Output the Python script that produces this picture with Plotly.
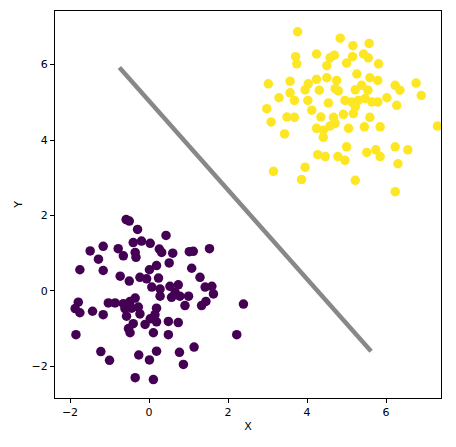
import plotly.graph_objects as go

# cluster 0 (purple)
x0 = [-0.58, -0.50, -0.29, 0.43, -0.40, -0.19, 0.03, -1.49, -1.16, -0.78, -0.65, -0.35, -0.33,
      0.26, 0.32, 0.60, 1.02, 1.12, 1.53, -1.28, -1.75, -1.16, 0.01, 0.19, 0.51, 1.08, -0.73,
      -0.50, -0.23, -0.06, 0.24, 1.29, 0.07, 0.28, 0.53, 0.74, 0.66, 1.42, 1.59, 1.63, 0.28,
      0.57, 0.78, 1.00, -1.79, -1.87, -1.75, -1.43, -1.16, -1.03, -0.86, -0.65, -0.48, -0.35,
      -0.61, -0.44, -0.27, -0.57, -0.23, 0.91, 1.33, 1.44, 2.39, 0.19, 0.15, 0.03, 0.19, -0.10,
      -0.40, -0.52, -0.48, 0.49, 0.74, 0.11, 0.49, -1.85, 2.22, -1.22, -1.00, -0.26, 0.01, 0.19,
      0.77, 1.14, 0.87, -0.35, 0.11]
y0 = [1.89, 1.85, 1.63, 1.47, 1.28, 1.32, 1.26, 1.06, 1.18, 1.12, 0.93, 1.02, 0.89,
      1.11, 1.02, 1.00, 1.04, 1.05, 1.12, 0.84, 0.56, 0.54, 0.56, 0.67, 0.74, 0.60, 0.39,
      0.26, 0.36, 0.32, 0.34, 0.36, 0.10, 0.05, 0.12, 0.16, -0.04, 0.10, 0.12, -0.08, -0.14,
      -0.17, -0.14, -0.14, -0.30, -0.47, -0.58, -0.54, -0.63, -0.32, -0.32, -0.34, -0.28, -0.19,
      -0.47, -0.46, -0.43, -0.67, -0.61, -0.39, -0.39, -0.28, -0.35, -0.46, -0.63, -0.74, -0.82, -0.89,
      -0.87, -1.00, -1.11, -0.81, -0.84, -1.11, -1.16, -1.16, -1.16, -1.61, -1.84, -1.70, -1.83, -1.60,
      -1.63, -1.49, -1.95, -2.30, -2.35]

# cluster 1 (yellow)
x1 = [3.76, 4.84, 5.16, 5.57, 4.24, 3.71, 3.74, 4.58, 4.69, 4.50, 5.00, 5.15, 5.43, 5.55, 5.81,
      5.26, 5.59, 5.79, 3.02, 3.57, 4.03, 4.24, 4.50, 4.75, 3.95, 4.31, 4.71, 4.79, 5.22, 5.38,
      5.54, 3.57, 3.68, 3.29, 4.02, 4.54, 4.96, 5.13, 5.30, 5.47, 5.64, 5.79, 6.02, 6.23, 6.35,
      6.27, 6.76, 6.89, 2.98, 3.09, 3.49, 3.68, 4.12, 4.35, 4.67, 4.71, 4.92, 5.17, 5.22, 4.24,
      4.41, 4.58, 5.05, 4.41, 5.59, 5.45, 5.85, 7.30, 3.43, 5.00, 4.27, 4.46, 4.78, 4.96, 5.51,
      5.74, 5.85, 6.23, 6.55, 6.30, 3.15, 3.95, 3.86, 5.22, 6.23]
y1 = [6.87, 6.70, 6.50, 6.56, 6.28, 6.21, 6.02, 6.18, 6.25, 5.97, 6.04, 6.21, 6.28, 6.18, 6.02,
      5.75, 5.65, 5.58, 5.49, 5.56, 5.49, 5.61, 5.65, 5.58, 5.33, 5.32, 5.36, 5.30, 5.33, 5.45,
      5.32, 5.25, 5.05, 5.12, 5.05, 4.98, 5.05, 5.01, 5.05, 5.10, 5.01, 5.01, 5.12, 5.45, 5.32,
      4.92, 5.51, 5.18, 4.83, 4.48, 4.61, 4.60, 4.79, 4.61, 4.60, 4.44, 4.68, 4.70, 4.88, 4.31,
      4.26, 4.37, 4.31, 4.07, 4.60, 4.35, 4.35, 4.37, 4.16, 3.82, 3.61, 3.56, 3.56, 3.46, 3.67,
      3.74, 3.56, 3.82, 3.74, 3.37, 3.17, 3.28, 2.95, 2.93, 2.63]

# decision boundary endpoints
line_x = [-0.75, 5.62]
line_y = [5.92, -1.60]

fig = go.Figure()
fig.add_trace(go.Scatter(x=line_x, y=line_y, mode="lines",
                         line=dict(color="#888888", width=4.5)))
fig.add_trace(go.Scatter(x=x0, y=y0, mode="markers",
                         marker=dict(color="#440154", size=9.5)))
fig.add_trace(go.Scatter(x=x1, y=y1, mode="markers",
                         marker=dict(color="#fde725", size=9.5)))

axis_style = dict(showline=True, linecolor="black", linewidth=1, mirror=True,
                  ticks="outside", ticklen=4, tickcolor="black", showgrid=False,
                  zeroline=False, tickfont=dict(family="DejaVu Sans", size=11, color="black"))
fig.update_xaxes(range=[-2.38, 7.39], tickvals=[-2, 0, 2, 4, 6],
                 title=dict(text="X", font=dict(family="DejaVu Sans", size=11, color="black"), standoff=4),
                 **axis_style)
fig.update_yaxes(range=[-2.84, 7.42], tickvals=[-2, 0, 2, 4, 6],
                 title=dict(text="Y", font=dict(family="DejaVu Sans", size=11, color="black"), standoff=6),
                 **axis_style)
fig.update_layout(width=456, height=447, showlegend=False,
                  plot_bgcolor="white", paper_bgcolor="white",
                  margin=dict(l=47, r=23, t=3, b=57, pad=0))
fig.write_html("out.html")
